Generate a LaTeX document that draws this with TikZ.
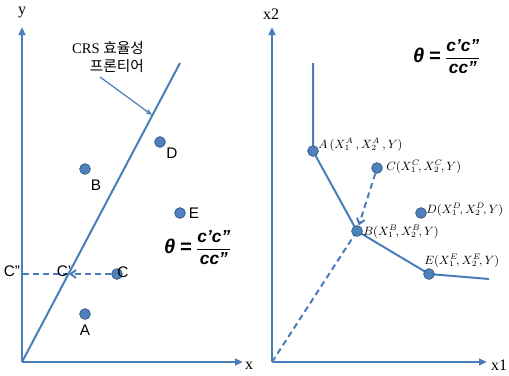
\documentclass[tikz,border=0pt]{standalone}
\usepackage{fontspec}
\usepackage{amsmath}
\setmainfont{Liberation Serif}
\setsansfont{Liberation Sans}
\newfontfamily\krfont{Noto Sans CJK KR}
\usetikzlibrary{arrows.meta}
\definecolor{lineblue}{HTML}{4A7EBB}
\definecolor{dotfill}{HTML}{4F81BD}
\definecolor{dotdraw}{HTML}{385D8A}
\tikzset{
  axisline/.style={draw=lineblue, line width=1.5pt, -{Triangle[length=6pt,width=5pt]}},
  frontline/.style={draw=lineblue, line width=1.5pt},
  dashline/.style={draw=lineblue, line width=1.5pt, dash pattern=on 4.5pt off 3pt},
  annline/.style={draw=lineblue, line width=0.9pt, -{Stealth[length=5pt,width=4pt]}},
  barb/.style={-{Straight Barb[length=4pt,width=6pt]}},
  dot/.style={circle, fill=dotfill, draw=dotdraw, line width=0.6pt, minimum size=8pt, inner sep=0pt},
  axlabel/.style={font=\fontsize{12}{14}\selectfont, inner sep=0pt},
  ptlabel/.style={font=\sffamily\fontsize{11.5}{13}\selectfont, inner sep=0pt},
  mlabel/.style={font=\fontsize{9}{11}\selectfont, inner sep=0pt, anchor=west},
  formula/.style={font=\sffamily\bfseries\itshape\fontsize{13}{15}\selectfont, inner sep=0pt}
}
\newcommand{\thetafrac}{$\displaystyle\text{\fontsize{15}{16}\selectfont θ}\mathrel{\text{\fontsize{15}{16}\selectfont =}}\frac{\text{c’c”}}{\text{cc”}}$}
\begin{document}
\begin{tikzpicture}[x=0.75pt, y=-0.75pt]
\useasboundingbox (0,0) rectangle (509,375);
% ---------- left panel ----------
\coordinate (O1) at (22,362);
\coordinate (Ytop) at (22,27);
\coordinate (Xend) at (243,362);
\coordinate (F1) at (180,63);
\draw[axisline] (O1) -- (Ytop);
\draw[axisline] (O1) -- (Xend);
\node[axlabel] (ylab) at (22,13) {y};
\node[axlabel] (xlab) at (249,366) {x};
\draw[frontline] (O1) -- (F1);
\node[font=\fontsize{11}{14}\selectfont, align=right, inner sep=0pt] (crs) at (108,57) {CRS {\krfont 효율성}\\{\krfont 프론티어}};
\coordinate (annS) at (100,77);
\coordinate (annE) at (152,115);
\draw[annline] (annS) -- (annE);
\coordinate (Cp) at (69,274);
\coordinate (Cpp) at (22,274);
\node[dot] (D) at (160,142) {};
\node[dot] (B) at (85,169) {};
\node[dot] (E) at (180,213) {};
\node[dot] (C) at (117,274) {};
\node[dot] (A) at (85,314) {};
\draw[dashline, barb] (C) -- (Cp);
\draw[dashline] (Cp) -- (Cpp);
\node[ptlabel] (Dl) at (172,153) {D};
\node[ptlabel] (Bl) at (96,185) {B};
\node[ptlabel] (El) at (194,213) {E};
\node[ptlabel] (Cl) at (123,272) {C};
\node[ptlabel] (Cpl) at (64,271) {C’};
\node[ptlabel] (Cppl) at (12,271) {C”};
\node[ptlabel] (Al) at (85,330) {A};
\node[formula] (th1) at (198,248) {\thetafrac};
% ---------- right panel ----------
\coordinate (O2) at (272,362);
\coordinate (X2top) at (272,27);
\coordinate (X1end) at (487,362);
\draw[axisline] (O2) -- (X2top);
\draw[axisline] (O2) -- (X1end);
\node[axlabel] (x2lab) at (271,14) {x2};
\node[axlabel] (x1lab) at (499,365) {x1};
\coordinate (T) at (313,63);
\coordinate (R) at (489,279);
\coordinate (pA) at (313,151);
\coordinate (pB) at (357,231);
\coordinate (pE) at (429,274);
\draw[frontline] (T) -- (pA) -- (pB) -- (pE) -- (R);
\draw[dashline] (O2) -- (pB);
\node[dot] (rA) at (pA) {};
\node[dot] (rC) at (377,168) {};
\node[dot] (rD) at (421,213) {};
\node[dot] (rB) at (pB) {};
\node[dot] (rE) at (pE) {};
\draw[dashline, barb] (rC) -- (rB);
\node[mlabel] (lA) at (318,145) {$A\,(X_1^A\,,X_2^A\,,Y)$};
\node[mlabel] (lC) at (386,167) {$C(X_1^C\!,X_2^C\!,Y)$};
\node[mlabel] (lD) at (426,210) {$D(X_1^D\!,X_2^D\!,Y)$};
\node[mlabel] (lB) at (363,232) {$B(X_1^B\!,X_2^B\!,Y)$};
\node[mlabel] (lE) at (424,261) {$E(X_1^E\!,X_2^E\!,Y)$};
\node[formula] (th2) at (447,57) {\thetafrac};
\end{tikzpicture}
\end{document}
